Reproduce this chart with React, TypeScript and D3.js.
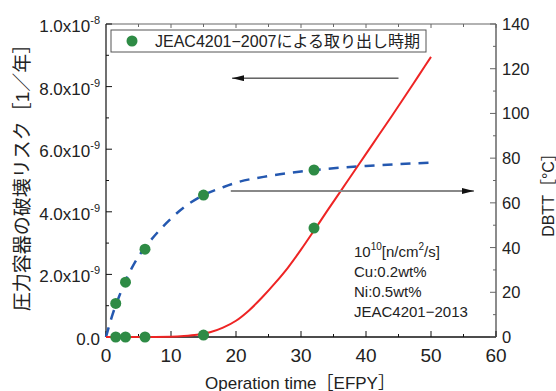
import React from 'react';
import * as d3 from 'd3';

// Red line: fracture risk (left axis, x1e-9 per year)
const riskX = [0, 5, 10, 12, 14, 16, 18, 20, 22, 24, 26, 28, 30, 32, 34, 36, 38, 40, 42, 44, 46, 48, 50];
const riskY = [0, 0, 0.01, 0.03, 0.07, 0.15, 0.3, 0.52, 0.85, 1.26, 1.72, 2.22, 2.79, 3.4, 4.02, 4.63, 5.24, 5.85, 6.46, 7.07, 7.69, 8.32, 8.95];

// Blue dashed: DBTT (right axis, degC)
const dbttX = [0, 1, 2, 3, 4, 5, 6, 8, 10, 12, 15, 18, 20, 25, 30, 35, 40, 45, 50];
const dbttY = [0, 10, 18, 25, 31, 36, 40, 47, 53, 58, 63.5, 67, 69, 72, 74, 75.5, 76.5, 77.3, 78];

// Green points: JEAC4201-2007 withdrawal times
const takeoutX = [1.5, 3, 6, 15, 32];
const takeoutRisk = [0, 0, 0, 0.06, 3.48];
const takeoutDbtt = [15, 24.5, 39.3, 63.5, 74.7];

const xTicks = [0, 10, 20, 30, 40, 50, 60];
const leftTicks = [0, 2, 4, 6, 8, 10];
const rightTicks = [0, 20, 40, 60, 80, 100, 120, 140];

const legendLabel = 'JEAC4201−2007による取り出し時期';
const noteLines = ['Cu:0.2wt%', 'Ni:0.5wt%', 'JEAC4201−2013'];

const FONT = '"Liberation Sans", "Noto Sans CJK JP", sans-serif';
const GREEN = '#2e8b45';
const RED = '#ee2424';
const BLUE = '#2458b0';
const TXT = '#222';

export default function App() {
  const W = 556;
  const H = 391;
  const x = d3.scaleLinear().domain([0, 60]).range([106, 496]);
  const yL = d3.scaleLinear().domain([0, 10]).range([337, 24]);
  const yR = d3.scaleLinear().domain([0, 140]).range([337, 24]);

  const riskLine = d3
    .line<number>()
    .x((d, i) => x(riskX[i]))
    .y((d) => yL(d))
    .curve(d3.curveMonotoneX)(riskY)!;
  const dbttLine = d3
    .line<number>()
    .x((d, i) => x(dbttX[i]))
    .y((d) => yR(d))
    .curve(d3.curveMonotoneX)(dbttY)!;

  const xMinor = d3.range(5, 60, 10);
  const leftMinor = d3.range(1, 10, 2);
  const rightMinor = d3.range(10, 140, 20);

  const [x0, x1] = x.range();
  const yTop = yL(10);
  const yBot = yL(0);

  return (
    <svg width={W} height={H} style={{ position: 'absolute', left: 0, top: 0 }} fontFamily={FONT}>
      <defs>
        <marker id="ah" viewBox="0 0 12 6" refX="12" refY="3" markerWidth="12" markerHeight="6" markerUnits="userSpaceOnUse" orient="auto">
          <path d="M0,0 L12,3 L0,6 Z" fill="#111" />
        </marker>
      </defs>
      <rect width={W} height={H} fill="#fff" />

      {/* frame */}
      <line x1={x0} x2={x1} y1={yTop} y2={yTop} stroke="#666" strokeWidth={1.2} />
      <line x1={x1} x2={x1} y1={yTop} y2={yBot} stroke="#666" strokeWidth={1.5} />
      <line x1={x0} x2={x0} y1={yTop} y2={yBot} stroke="#111" strokeWidth={1.2} />
      <line x1={x0} x2={x1} y1={yBot} y2={yBot} stroke="#111" strokeWidth={1.5} />

      {/* x ticks, bottom + top */}
      {xTicks.map((t) => (
        <g key={'xt' + t}>
          <line x1={x(t)} x2={x(t)} y1={yBot} y2={yBot - 6} stroke="#111" />
          <line x1={x(t)} x2={x(t)} y1={yTop} y2={yTop + 4} stroke="#666" />
          <text x={x(t)} y={362} textAnchor="middle" fontSize={19} fill={TXT}>{t}</text>
        </g>
      ))}
      {xMinor.map((t) => (
        <g key={'xm' + t}>
          <line x1={x(t)} x2={x(t)} y1={yBot} y2={yBot - 3} stroke="#111" />
          <line x1={x(t)} x2={x(t)} y1={yTop} y2={yTop + 3} stroke="#666" />
        </g>
      ))}

      {/* left ticks */}
      {leftTicks.map((t) => (
        <g key={'lt' + t}>
          <line x1={x0} x2={x0 + 6} y1={yL(t)} y2={yL(t)} stroke="#111" />
          <text x={100} y={yL(t) + 8} textAnchor="end" fontSize={17} fill={TXT}>
            {t === 0 ? '0.0' : (
              <>
                {(t >= 10 ? t / 10 : t).toFixed(1) + 'x10'}
                <tspan fontSize={11} dy={-8}>{t >= 10 ? '-8' : '-9'}</tspan>
              </>
            )}
          </text>
        </g>
      ))}
      {leftMinor.map((t) => (
        <line key={'lm' + t} x1={x0} x2={x0 + 3} y1={yL(t)} y2={yL(t)} stroke="#111" />
      ))}

      {/* right ticks */}
      {rightTicks.map((t) => (
        <g key={'rt' + t}>
          <line x1={x1} x2={x1 - 6} y1={yR(t)} y2={yR(t)} stroke="#666" />
          <text x={502} y={yR(t) + 6} fontSize={16.5} fill={TXT}>{t}</text>
        </g>
      ))}
      {rightMinor.map((t) => (
        <line key={'rm' + t} x1={x1} x2={x1 - 3} y1={yR(t)} y2={yR(t)} stroke="#666" />
      ))}

      {/* axis titles */}
      <text x={300} y={389} textAnchor="middle" fontSize={17} fill={TXT}>Operation time［EFPY］</text>
      <text transform="translate(22,173) rotate(-90)" textAnchor="middle" dy="0.35em" fontSize={19} fill={TXT}>
        圧力容器の破壊リスク［1／年］
      </text>
      <text transform="translate(554,191) rotate(-90)" textAnchor="middle" fontSize={16} fill={TXT}>
        DBTT［°C］
      </text>

      {/* curves */}
      <path d={dbttLine} fill="none" stroke={BLUE} strokeWidth={2.5} strokeDasharray="10,8" />
      <path d={riskLine} fill="none" stroke={RED} strokeWidth={2} />

      {/* arrows */}
      <line x1={x(45)} x2={x(19.4)} y1={yL(8.27)} y2={yL(8.27)} stroke="#111" strokeWidth={1} markerEnd="url(#ah)" />
      <line x1={x(19.2)} x2={x(56.6)} y1={yR(65.3)} y2={yR(65.3)} stroke="#888" strokeWidth={2} markerEnd="url(#ah)" />

      {/* points */}
      {takeoutX.map((v, i) => (
        <g key={'p' + i}>
          <circle cx={x(v)} cy={yL(takeoutRisk[i])} r={5.5} fill={GREEN} />
          <circle cx={x(v)} cy={yR(takeoutDbtt[i])} r={5.5} fill={GREEN} />
        </g>
      ))}

      {/* legend */}
      <rect x={111} y={30} width={315} height={22} fill="#fff" stroke="#555" strokeWidth={1} />
      <circle cx={132} cy={41} r={5.5} fill={GREEN} />
      <text x={155} y={47} fontSize={16} fill={TXT}>{legendLabel}</text>

      {/* note */}
      <text x={354} y={257} fontSize={15} fill={TXT}>
        10<tspan fontSize={10} dy={-7}>10</tspan>
        <tspan dy={7}>[n/cm</tspan>
        <tspan fontSize={10} dy={-7}>2</tspan>
        <tspan dy={7}>/s]</tspan>
      </text>
      {noteLines.map((s, i) => (
        <text key={s} x={354} y={277 + i * 20} fontSize={15} fill={TXT}>{s}</text>
      ))}
    </svg>
  );
}
